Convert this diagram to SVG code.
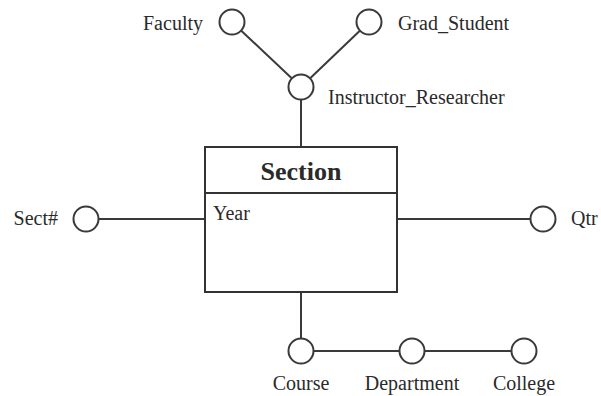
<svg xmlns="http://www.w3.org/2000/svg" width="601" height="396" viewBox="0 0 601 396">
  <style>
    .edge { stroke: #3a3a3a; stroke-width: 2; fill: none; }
    .attr { stroke: #3a3a3a; stroke-width: 2; fill: #ffffff; }
    .box { stroke: #333333; stroke-width: 2; fill: #ffffff; }
    .lbl { font-family: "Liberation Serif", "Times New Roman", serif; font-size: 20px; fill: #2a2a2a; }
    .title { font-family: "Liberation Serif", "Times New Roman", serif; font-size: 26px; font-weight: bold; fill: #2a2a2a; }
  </style>
  <rect width="601" height="396" fill="#ffffff"/>

  <g id="connectors">
    <line class="edge" x1="232" y1="22" x2="301" y2="87"/>
    <line class="edge" x1="369" y1="22" x2="301" y2="87"/>
    <line class="edge" x1="301" y1="99" x2="301" y2="147"/>
    <line class="edge" x1="99" y1="219" x2="205" y2="219"/>
    <line class="edge" x1="397" y1="219" x2="530" y2="219"/>
    <line class="edge" x1="301" y1="292" x2="301" y2="339"/>
    <line class="edge" x1="314" y1="351" x2="399" y2="351"/>
    <line class="edge" x1="425" y1="351" x2="511" y2="351"/>
  </g>

  <g id="section">
    <rect class="box" x="205" y="147" width="192" height="145"/>
    <line class="box" x1="205" y1="193" x2="397" y2="193"/>
    <text class="title" x="301" y="180" text-anchor="middle">Section</text>
    <text class="lbl" x="213" y="220">Year</text>
  </g>

  <g id="faculty">
    <circle class="attr" cx="232" cy="22" r="12.5"/>
    <text class="lbl" x="203" y="30" text-anchor="end">Faculty</text>
  </g>

  <g id="grad-student">
    <circle class="attr" cx="369" cy="22" r="12.5"/>
    <text class="lbl" x="398" y="30">Grad_Student</text>
  </g>

  <g id="instructor-researcher">
    <circle class="attr" cx="301" cy="87" r="12.5"/>
    <text class="lbl" x="328" y="104">Instructor_Researcher</text>
  </g>

  <g id="sect-num">
    <circle class="attr" cx="86" cy="219" r="12.5"/>
    <text class="lbl" x="58" y="225" text-anchor="end">Sect#</text>
  </g>

  <g id="qtr">
    <circle class="attr" cx="543" cy="219" r="12.5"/>
    <text class="lbl" x="571" y="225">Qtr</text>
  </g>

  <g id="course">
    <circle class="attr" cx="301" cy="351" r="12.5"/>
    <text class="lbl" x="301" y="390" text-anchor="middle">Course</text>
  </g>

  <g id="department">
    <circle class="attr" cx="412" cy="351" r="12.5"/>
    <text class="lbl" x="412" y="390" text-anchor="middle">Department</text>
  </g>

  <g id="college">
    <circle class="attr" cx="524" cy="351" r="12.5"/>
    <text class="lbl" x="524" y="390" text-anchor="middle">College</text>
  </g>
</svg>
